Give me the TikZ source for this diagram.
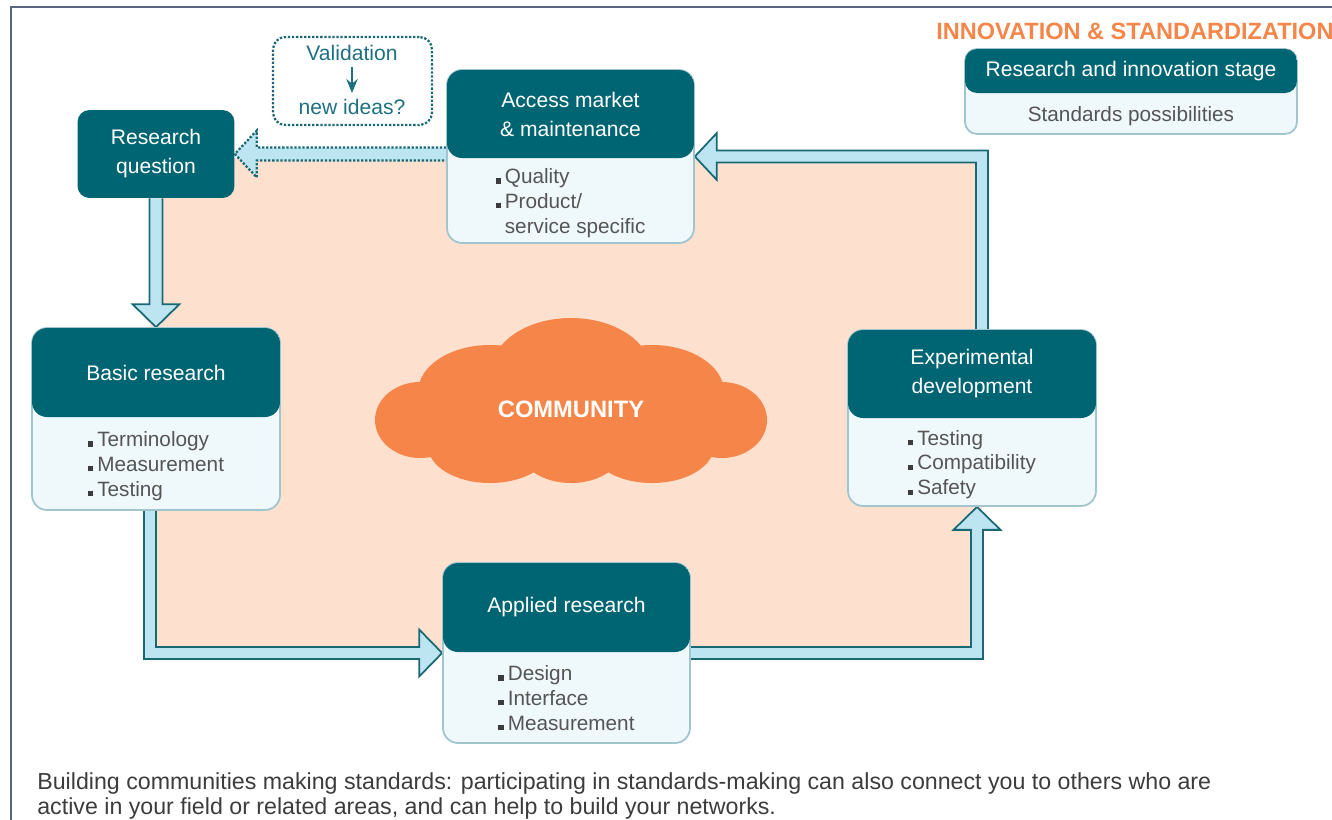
\documentclass[tikz,border=0pt]{standalone}
\usepackage{fontspec}
\setmainfont{Liberation Sans}
\usetikzlibrary{calc,backgrounds,arrows.meta}

\definecolor{headteal}{RGB}{0,101,114}
\definecolor{bodyfill}{RGB}{239,248,251}
\definecolor{bodyedge}{RGB}{160,197,206}
\definecolor{flowfill}{RGB}{189,228,241}
\definecolor{flowedge}{RGB}{26,104,116}
\definecolor{peach}{RGB}{253,224,206}
\definecolor{cloudorange}{RGB}{245,133,73}
\definecolor{framegray}{RGB}{90,102,125}
\definecolor{itemgray}{RGB}{85,85,85}
\definecolor{bulletgray}{RGB}{60,60,60}
\definecolor{valteal}{RGB}{30,112,128}
\definecolor{captiongray}{RGB}{60,60,60}

% small square bullet
\newcommand{\sq}{\textcolor{bulletgray}{\rule{2.9pt}{2.9pt}}\hspace{2.4pt}}
% width, header height, body height, header text, body lines
\newcommand{\stagebox}[5]{\vbox{\offinterlineskip
  \hbox{\parbox[c][#2][c]{#1}{\centering\color{white}#4}}%
  \hbox{\parbox[c][#3][c]{#1}{\centering\vspace*{0.12cm}\fontsize{11.8}{14.2}\selectfont\color{itemgray}%
    \begin{tabular}{@{}l@{}}#5\end{tabular}}}}}

\tikzset{
  stage/.style={draw=bodyedge, line width=1pt, fill=bodyfill, rounded corners=0.3cm,
    inner sep=0pt, font=\fontsize{12}{16.5}\selectfont,
    postaction={path picture={\fill[headteal] (path picture bounding box.north west)
      rectangle ([yshift=-#1]path picture bounding box.north east);}}},
  stage/.default=1.78cm,
  question/.style={fill=headteal, rounded corners=0.24cm, minimum width=3.14cm,
    minimum height=1.76cm, align=center, text=white, font=\fontsize{12}{16.5}\selectfont},
  flow/.style={fill=flowfill, draw=flowedge, line width=1pt, line join=miter},
  ideaflow/.style={fill=flowfill, draw=flowedge, line width=1.3pt, densely dotted},
}

\begin{document}
\begin{tikzpicture}[x=0.02cm, y=-0.02cm]
    \useasboundingbox (0,0) rectangle (1332,819);
    \clip (0,0) rectangle (1332,819);

    % frame
    \draw[framegray, line width=0.8pt] (11,7) rectangle (1400,900);

    % title and legend
    \node[anchor=west, inner sep=0pt, text=cloudorange, font=\bfseries\fontsize{13.4}{16}\selectfont] (title) at (936,31) {INNOVATION \& STANDARDIZATION};
    \node[stage=0.88cm, rounded corners=0.24cm] (legend) at (1131,91.5)
        {\stagebox{6.64cm}{0.88cm}{0.82cm}{Research and innovation stage}{Standards possibilities}};

    % validation loop
    \node[draw=flowedge, line width=1.3pt, densely dotted, rounded corners=0.25cm,
          minimum width=3.18cm, minimum height=1.76cm] (ideas) at (352.5,81) {};
    \node[text=valteal, font=\fontsize{12}{14}\selectfont] (valtxt) at (352,53) {Validation};
    \node[text=valteal, font=\fontsize{12}{14}\selectfont] (newtxt) at (352,107) {new ideas?};
    \draw[-{Stealth[length=8pt,width=6.5pt]}, valteal, line width=0.9pt] (valtxt) -- (newtxt);

    % stages
    \node[question] (rq) at (156,154) {Research\\question};
    \node[stage=1.76cm] (acc) at (570.5,156.5)
        {\stagebox{4.94cm}{1.76cm}{1.70cm}{Access market\\\& maintenance}{\sq Quality\\ \sq Product/\\ \phantom{\sq}service specific}};
    \node[stage=1.78cm] (br) at (156,419)
        {\stagebox{4.96cm}{1.78cm}{1.86cm}{Basic research}{\sq Terminology\\ \sq Measurement\\ \sq Testing}};
    \node[stage=1.78cm] (app) at (566.5,653)
        {\stagebox{4.94cm}{1.78cm}{1.82cm}{Applied research}{\sq Design\\ \sq Interface\\ \sq Measurement}};
    \node[stage=1.76cm] (exp) at (972,418)
        {\stagebox{4.96cm}{1.76cm}{1.76cm}{Experimental\\development}{\sq Testing\\ \sq Compatibility\\ \sq Safety}};

    % community cloud
    \fill[cloudorange] (571,372) ellipse (80 and 54)
        (490,392) ellipse (72 and 47)  (652,392) ellipse (72 and 47)
        (420,420) ellipse (45 and 38)  (722,420) ellipse (45 and 38)
        (490,446) ellipse (62 and 37)  (571,448) ellipse (52 and 35)  (652,446) ellipse (62 and 37)
        (571,415) ellipse (160 and 45);
    \node[text=white, font=\bfseries\fontsize{13.5}{16}\selectfont] (com) at (571,409) {COMMUNITY};

    % caption
    \node[anchor=north west, align=left, inner sep=0pt, text=captiongray,
          font=\fontsize{13.2}{14.2}\selectfont] (cap) at (37,772)
        {Building communities making standards: participating in standards-making can also connect you to others who are\\
         active in your field or related areas, and can help to build your networks.};

    \begin{scope}[on background layer]
        \fill[peach] (150,158) rectangle (982,652);

        % research question -> basic research
        \draw[flow] ($(rq.south)+(-6.5,0)$) -- ($(br.north)+(-6.5,-23)$) -- ++(-17,0)
            -- (br.north) -- ++(23.5,-23) -- ++(-17,0) -- ($(rq.south)+(6.5,0)$);
        % basic research -> applied research
        \draw[flow] ($(br.south)+(-12,0)$) -- ($(br.south |- app.west)+(-12,6)$)
            -- ($(app.west)+(-23,6)$) -- ++(0,17.5) -- (app.west) -- ++(-23,-23.5)
            -- ++(0,17.5) -- ($(br.south |- app.west)+(0,-6)$) -- (br.south);
        % applied research -> experimental development
        \draw[flow] ($(app.east)+(0,-6)$) -- ($(app.east -| exp.south)+(-1,-6)$)
            -- ($(exp.south)+(-1,23)$) -- ++(-17.5,0) -- ($(exp.south)+(5,0)$)
            -- ++(23.5,23) -- ++(-17.5,0) -- ($(app.east -| exp.south)+(11,6)$)
            -- ($(app.east)+(0,6)$);
        % experimental development -> access market
        \draw[flow] ($(exp.north)+(4,0)$) -- ($(exp.north |- acc.east)+(4,6)$)
            -- ($(acc.east)+(22,6)$) -- ++(0,17.5) -- (acc.east) -- ++(22,-23.5)
            -- ++(0,17.5) -- ($(exp.north |- acc.east)+(16,-6)$) -- ($(exp.north)+(16,0)$);
        % access market -> research question
        \draw[ideaflow] ($(acc.west |- rq.east)+(0,-6.5)$) -- ($(rq.east)+(22,-6.5)$)
            -- ++(0,-17) -- (rq.east) -- ++(22,23.5) -- ++(0,-17)
            -- ($(acc.west |- rq.east)+(0,6.5)$);
    \end{scope}
\end{tikzpicture}
\end{document}
